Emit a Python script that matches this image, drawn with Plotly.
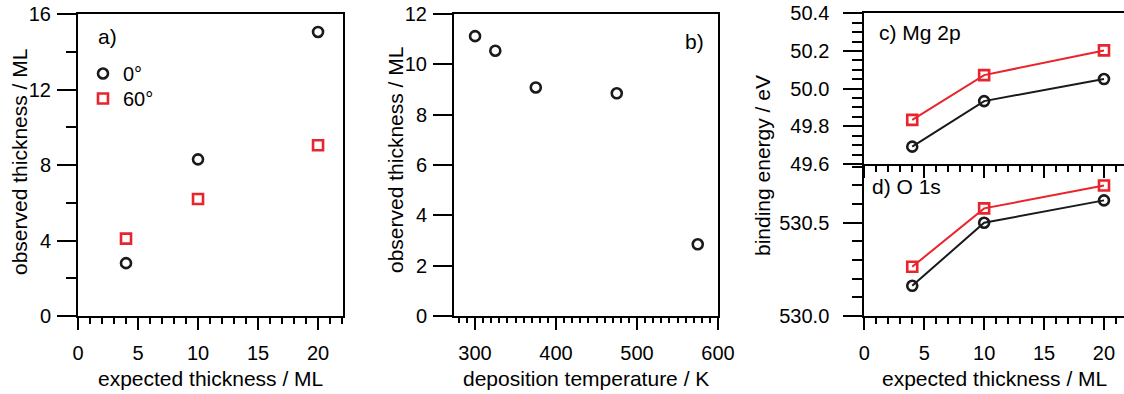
import plotly.graph_objects as go

W, H = 1124, 394

# ---- data ----
exp_thick = [4, 10, 20]
obs_0deg = [2.8, 8.3, 15.05]
obs_60deg = [4.1, 6.2, 9.05]

dep_temp = [300, 325, 375, 475, 575]
obs_temp = [11.12, 10.54, 9.08, 8.85, 2.85]

mg2p_0deg = [49.692, 49.934, 50.051]
mg2p_60deg = [49.834, 50.072, 50.203]
o1s_0deg = [530.162, 530.50, 530.62]
o1s_60deg = [530.264, 530.577, 530.70]

BLACK = "#1a1a1a"
RED = "#e8242c"
FONT = "Liberation Sans, Arial, Helvetica, sans-serif"


def px(x):
    return x / W


def py(y):
    return 1 - y / H


fig = go.Figure()

mk0 = dict(symbol="circle-open", size=10, color=BLACK, line=dict(width=2.6, color=BLACK))
mk60 = dict(symbol="square-open", size=10, color=RED, line=dict(width=2.6, color=RED))

# panel a
fig.add_trace(go.Scatter(x=exp_thick, y=obs_0deg, mode="markers", marker=mk0,
                         name="0°", xaxis="x", yaxis="y", showlegend=True, legend="legend"))
fig.add_trace(go.Scatter(x=exp_thick, y=obs_60deg, mode="markers", marker=mk60,
                         name="60°", xaxis="x", yaxis="y", showlegend=True, legend="legend2"))
# panel b
fig.add_trace(go.Scatter(x=dep_temp, y=obs_temp, mode="markers", marker=mk0,
                         xaxis="x2", yaxis="y2", showlegend=False))
# panel c
fig.add_trace(go.Scatter(x=exp_thick, y=mg2p_0deg, mode="lines+markers", marker=mk0,
                         line=dict(color=BLACK, width=2), xaxis="x3", yaxis="y3", showlegend=False))
fig.add_trace(go.Scatter(x=exp_thick, y=mg2p_60deg, mode="lines+markers", marker=mk60,
                         line=dict(color=RED, width=2), xaxis="x3", yaxis="y3", showlegend=False))
# panel d
fig.add_trace(go.Scatter(x=exp_thick, y=o1s_0deg, mode="lines+markers", marker=mk0,
                         line=dict(color=BLACK, width=2), xaxis="x4", yaxis="y4", showlegend=False))
fig.add_trace(go.Scatter(x=exp_thick, y=o1s_60deg, mode="lines+markers", marker=mk60,
                         line=dict(color=RED, width=2), xaxis="x4", yaxis="y4", showlegend=False))

tickfont = dict(family=FONT, size=20, color="black")
common = dict(showline=True, linewidth=2, linecolor="black", ticks="outside",
              tickwidth=2, tickcolor="black", showgrid=False, zeroline=False,
              tickfont=tickfont, automargin=False)

xa_common = dict(common, ticklen=12, ticklabelstandoff=6)
ya_common = dict(common, ticklen=19, ticklabelstandoff=2)

a_x = [px(78), px(343)]
b_x = [px(454), px(718)]
cd_x = [px(864.3), 1.0]
ab_y = [py(316), py(14)]
c_y = [py(164), py(13.3)]
d_y = [py(316), py(164)]

legend_common = dict(xanchor="left", yanchor="top", bgcolor="rgba(0,0,0,0)",
                     font=dict(family=FONT, size=20), itemsizing="trace")

fig.update_layout(
    width=W, height=H,
    margin=dict(l=0, r=0, t=0, b=0, autoexpand=False),
    paper_bgcolor="white", plot_bgcolor="white",
    font=dict(family=FONT, size=20, color="black"),
    xaxis=dict(xa_common, domain=a_x, range=[0, 22.08], dtick=5, tick0=0,
               minor=dict(dtick=1, ticklen=6, tickwidth=2, tickcolor="black", ticks="outside"),
               mirror=True, anchor="y"),
    yaxis=dict(ya_common, domain=ab_y, range=[0, 16], dtick=4, tick0=0,
               minor=dict(dtick=2, ticklen=10, tickwidth=2, tickcolor="black", ticks="outside"),
               mirror=True, anchor="x"),
    xaxis2=dict(xa_common, domain=b_x, range=[274, 600], dtick=100, tick0=0,
                minor=dict(dtick=10, ticklen=5, tickwidth=2, tickcolor="black", ticks="outside"),
                mirror=True, anchor="y2"),
    xaxis5=dict(domain=b_x, range=[274, 600], overlaying="x2", anchor="y2",
                tickvals=[350, 450, 550], ticks="outside", ticklen=8, tickwidth=2,
                tickcolor="black", showticklabels=False, showgrid=False, zeroline=False,
                showline=False, side="bottom", automargin=False),
    yaxis2=dict(ya_common, domain=ab_y, range=[0, 12], dtick=2, tick0=0,
                mirror=True, anchor="x2"),
    xaxis3=dict(xa_common, domain=cd_x, range=[0, 21.67], dtick=5, tick0=0,
                showticklabels=False,
                minor=dict(dtick=1, ticklen=6, tickwidth=2, tickcolor="black", ticks="outside"),
                mirror=True, anchor="y3"),
    yaxis3=dict(ya_common, domain=c_y, range=[49.6, 50.4], dtick=0.2, tick0=49.6,
                tickformat=".1f", ticklabelstandoff=10,
                minor=dict(dtick=0.05, ticklen=10, tickwidth=2, tickcolor="black", ticks="outside"),
                anchor="x3"),
    xaxis4=dict(xa_common, domain=cd_x, range=[0, 21.67], dtick=5, tick0=0,
                minor=dict(dtick=1, ticklen=6, tickwidth=2, tickcolor="black", ticks="outside"),
                anchor="y4"),
    yaxis4=dict(ya_common, domain=d_y, range=[530.0, 530.815], dtick=0.5, tick0=530,
                tickformat=".1f", ticklabelstandoff=10,
                minor=dict(dtick=0.1, ticklen=10, tickwidth=2, tickcolor="black", ticks="outside"),
                anchor="x4"),
    legend=dict(legend_common, x=px(83), y=py(54)),
    legend2=dict(legend_common, x=px(83), y=py(79)),
)

titlefont = dict(family=FONT, size=21, color="black")
annotations = [
    dict(text="expected thickness / ML", x=px(210.5), y=py(378)),
    dict(text="deposition temperature / K", x=px(586), y=py(378)),
    dict(text="expected thickness / ML", x=px(994), y=py(378)),
    dict(text="observed thickness / ML", x=px(19), y=py(162), textangle=-90),
    dict(text="observed thickness / ML", x=px(395), y=py(160), textangle=-90),
    dict(text="binding energy / eV", x=px(762), y=py(166), textangle=-90),
]
for a in annotations:
    fig.add_annotation(xref="paper", yref="paper", showarrow=False, font=titlefont,
                       xanchor="center", yanchor="middle", **a)

labels = [
    dict(text="a)", x=px(96), y=py(36), xanchor="left"),
    dict(text="b)", x=px(706), y=py(41), xanchor="right"),
    dict(text="c) Mg 2p", x=px(877), y=py(32), xanchor="left"),
    dict(text="d) O 1s", x=px(870), y=py(186), xanchor="left"),
]
for a in labels:
    fig.add_annotation(xref="paper", yref="paper", showarrow=False, font=titlefont,
                       yanchor="middle", **a)

fig.write_html(
    "out.html",
    config={"displayModeBar": False},
    post_script="document.body.style.margin='0';document.body.style.overflow='hidden';"
                "document.documentElement.style.overflow='hidden';",
)
